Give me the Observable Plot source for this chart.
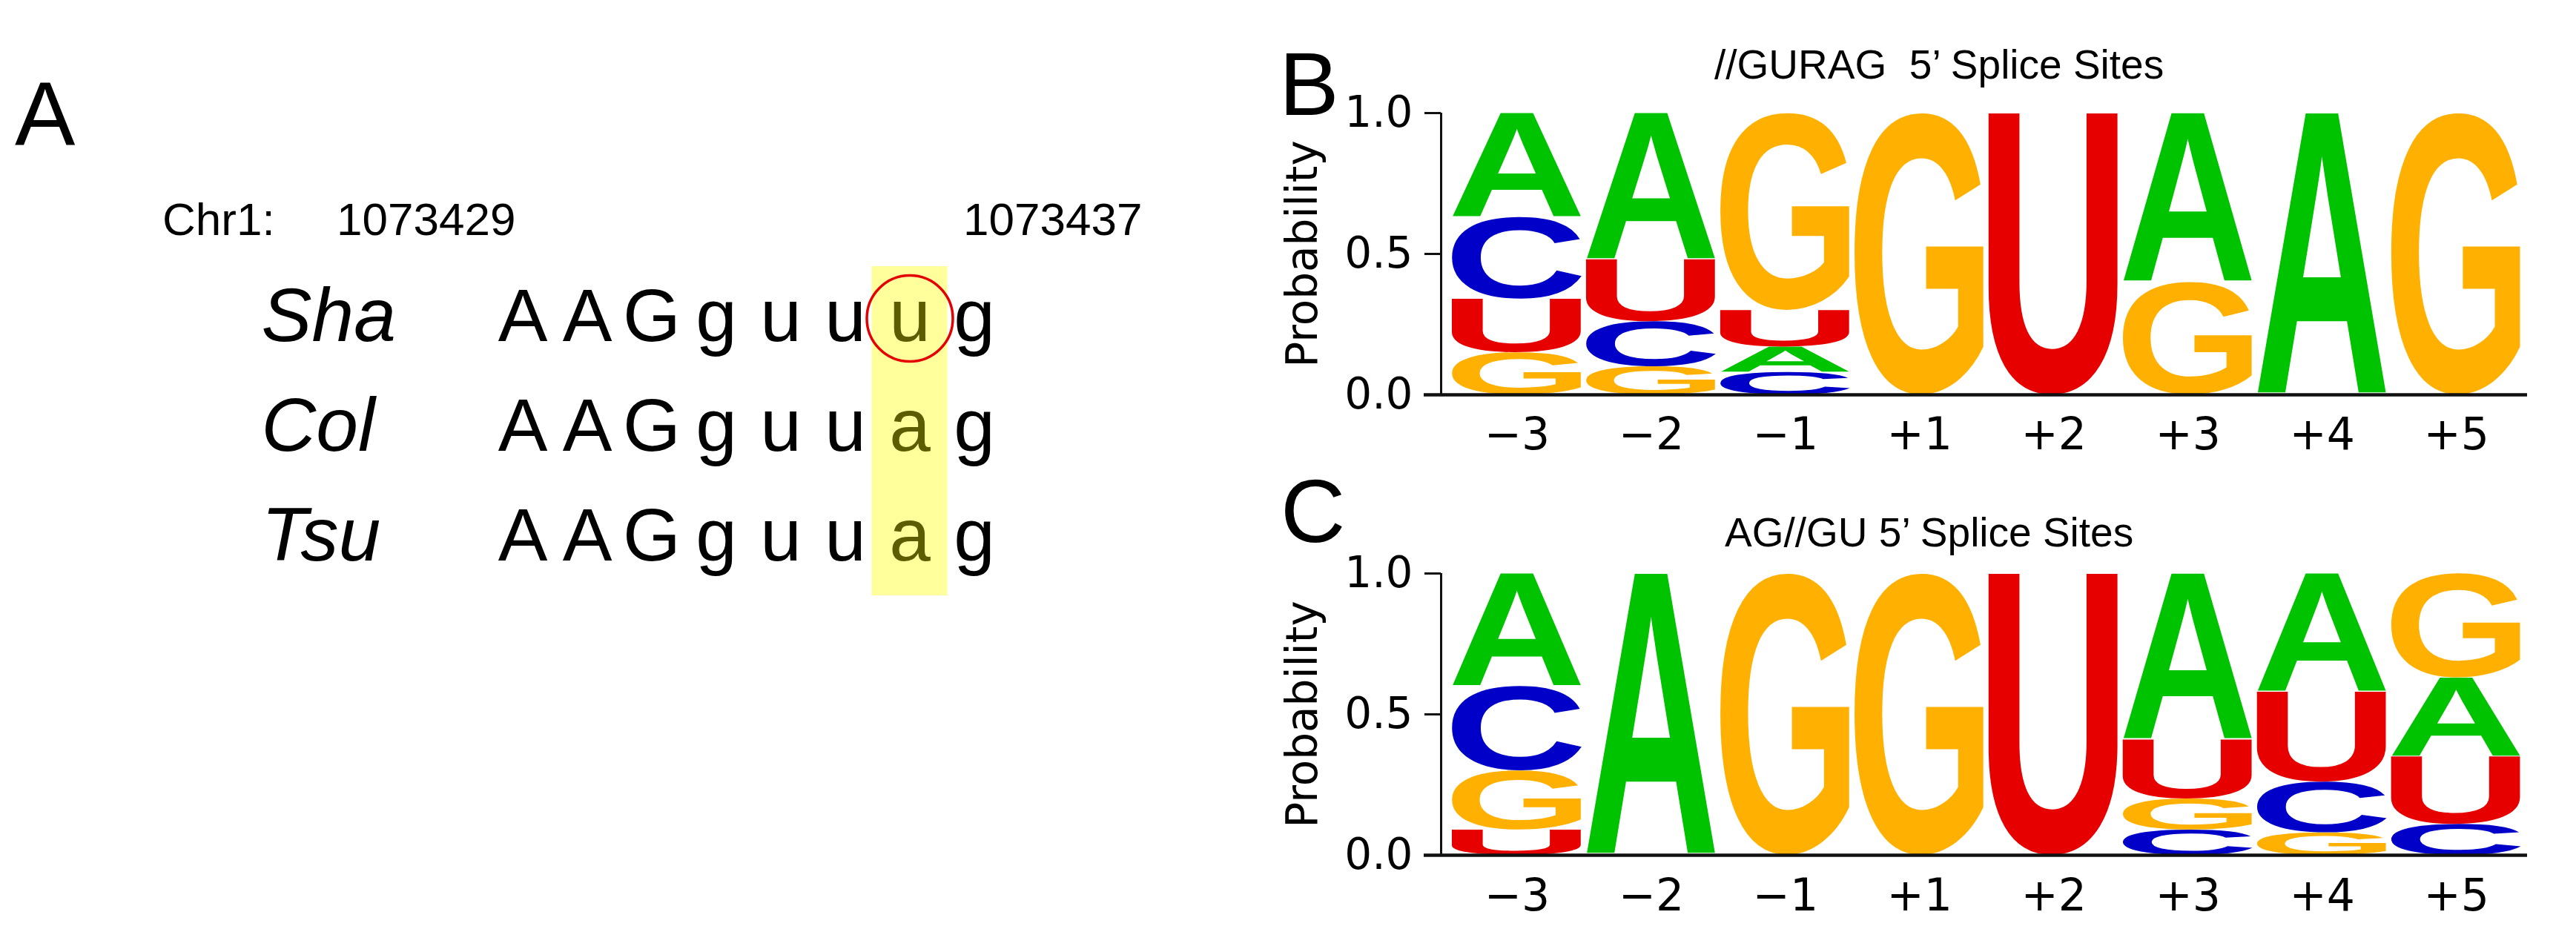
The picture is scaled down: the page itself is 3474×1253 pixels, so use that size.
<!DOCTYPE html>
<html>
<head>
<meta charset="utf-8">
<script src="https://cdn.jsdelivr.net/npm/d3@7"></script>
<script src="https://cdn.jsdelivr.net/npm/@observablehq/plot@0.6"></script>
<style>
html, body { margin: 0; padding: 0; background: #fff; }
#root { position: relative; width: 3474px; height: 1253px; overflow: hidden; background: #fff;
        font-family: "Liberation Sans", Arial, sans-serif; color: #000; }
.lbl { position: absolute; white-space: pre; line-height: 1; }
.plot { position: absolute; }
</style>
</head>
<body>
<div id="root"></div>
<script>
// ---------------- DATA ----------------
// Panel A: alignment
const strains = ["Sha", "Col", "Tsu"];
const seqSha = ["A", "A", "G", "g", "u", "u", "u", "g"];
const seqCol = ["A", "A", "G", "g", "u", "u", "a", "g"];
const seqTsu = ["A", "A", "G", "g", "u", "u", "a", "g"];
const snpIndex = 6;
const chrLabel = "Chr1:";
const startCoord = "1073429";
const endCoord = "1073437";

// Panels B & C: sequence logo probabilities per position
const positions = ["\u22123", "\u22122", "\u22121", "+1", "+2", "+3", "+4", "+5"];
const bases = ["A", "C", "G", "U"];
const baseColors = ["#00c300", "#0000c8", "#ffb000", "#e60000"];

// B: //GURAG 5' splice sites
const guragA = [0.37, 0.52, 0.09, 0.00, 0.00, 0.60, 1.00, 0.00];
const guragC = [0.29, 0.16, 0.08, 0.00, 0.00, 0.00, 0.00, 0.00];
const guragG = [0.15, 0.10, 0.70, 1.00, 0.00, 0.40, 0.00, 1.00];
const guragU = [0.19, 0.22, 0.13, 0.00, 1.00, 0.00, 0.00, 0.00];

// C: AG//GU 5' splice sites
const agguA = [0.40, 1.00, 0.00, 0.00, 0.00, 0.59, 0.42, 0.28];
const agguC = [0.30, 0.00, 0.00, 0.00, 0.00, 0.09, 0.18, 0.11];
const agguG = [0.21, 0.00, 1.00, 1.00, 0.00, 0.11, 0.08, 0.37];
const agguU = [0.09, 0.00, 0.00, 0.00, 1.00, 0.21, 0.32, 0.24];

const titleB = "//GURAG  5\u2019 Splice Sites";
const titleC = "AG//GU 5\u2019 Splice Sites";
const yLabel = "Probability";

// ---------------- LAYOUT ----------------
const root = document.getElementById("root");

function addText(str, left, baseline, size, opts = {}) {
  const d = document.createElement("div");
  d.className = "lbl";
  d.textContent = str;
  d.style.fontSize = size + "px";
  d.style.left = left + "px";
  d.style.top = (baseline - 0.8465 * size) + "px";
  if (opts.family) d.style.fontFamily = opts.family;
  if (opts.style) d.style.fontStyle = opts.style;
  root.appendChild(d);
  return d;
}

function place(svg, left, top) {
  const wrap = document.createElement("div");
  wrap.className = "plot";
  wrap.style.left = left + "px";
  wrap.style.top = top + "px";
  wrap.appendChild(svg);
  root.appendChild(wrap);
}

// ---------- Panel A ----------
const seqs = [seqSha, seqCol, seqTsu];
const seqRows = [];
strains.forEach((s, r) => seqs[r].forEach((b, i) => seqRows.push({strain: s, pos: i, base: b})));

const plotA = Plot.plot({
  width: 1700, height: 560,
  marginLeft: 352, marginTop: 0, marginRight: 0, marginBottom: 0,
  x: {type: "band", domain: d3.range(seqSha.length), range: [658.1, 1359.9], padding: 0, axis: null},
  y: {type: "band", domain: strains, range: [59, 503], padding: 0, axis: null},
  style: {background: "transparent", color: "#000", fontFamily: "Liberation Sans, Arial, sans-serif"},
  marks: [
    Plot.cell(strains, {x: () => snpIndex, y: d => d, fill: "#ffff9c", insetLeft: -7.5, insetRight: -7.5}),
    Plot.text(strains, {y: d => d, text: d => d, frameAnchor: "left", textAnchor: "start",
      lineAnchor: "bottom", dy: 26, fontSize: 102, fontStyle: "italic", fill: "#000"}),
    Plot.text(seqRows, {filter: d => d.pos !== snpIndex, x: "pos", y: "strain", text: "base",
      lineAnchor: "bottom", dy: 26, fontSize: 100, fill: "#000"}),
    Plot.text(seqRows, {filter: d => d.pos === snpIndex, x: "pos", y: "strain", text: "base",
      lineAnchor: "bottom", dy: 26, fontSize: 100, fill: "#5c5c00"}),
    Plot.dot([snpIndex], {x: d => d, y: () => strains[0], r: 58, dy: -4,
      stroke: "#e50000", strokeWidth: 3.5, fill: "none"})
  ]
});
place(plotA, 0, 300);

// ---------- Panels B & C (sequence logos) ----------
const xDomain = [-0.566, 7.53];
const measureCtx = document.createElement("canvas").getContext("2d");
const glyphFont = "'Liberation Sans', Arial, sans-serif";
measureCtx.font = "bold 200px " + glyphFont;
measureCtx.textAlign = "start";
measureCtx.textBaseline = "alphabetic";

function logoPlot(A, C, G, U, top, height, yOnePx, yZeroPx, tickPad) {
  const probs = [A, C, G, U];
  const rows = [];
  positions.forEach((p, i) => {
    const col = bases.map((b, k) => ({base: b, v: probs[k][i]}))
      .filter(d => d.v > 0)
      .sort((a, b) => a.v - b.v);
    let acc = 0;
    for (const d of col) { rows.push({i, base: d.base, y1: acc, y2: acc + d.v}); acc += d.v; }
  });
  const svg = Plot.plot({
    width: 1774, height,
    marginLeft: 243, marginRight: 66,
    marginTop: yOnePx - top, marginBottom: height - (yZeroPx - top),
    x: {domain: xDomain, axis: null, label: null},
    y: {domain: [0, 1], axis: null, label: null},
    color: {domain: bases, range: baseColors},
    style: {background: "transparent", color: "#000", fontFamily: "DejaVu Sans, sans-serif", overflow: "visible"},
    marks: [
      Plot.rect(rows, {x1: d => d.i - 0.5, x2: d => d.i + 0.5, y1: "y1", y2: "y2",
        insetLeft: 3, insetRight: 3, fill: "base", title: "base"}),
      Plot.ruleX([xDomain[0]], {y1: 0, y2: 1, strokeWidth: 3, stroke: "#111"}),
      Plot.ruleY([0], {strokeWidth: 4.5, insetLeft: -23, stroke: "#111"}),
      Plot.axisY({ticks: [0, 0.5, 1], tickFormat: d3.format(".1f"), tickSize: 22, tickPadding: 16,
        strokeWidth: 3, stroke: "#111", fontSize: 58, fontFamily: "DejaVu Sans, sans-serif", label: null}),
      Plot.axisX({ticks: d3.range(positions.length), tickFormat: i => positions[i], tickSize: 0,
        tickPadding: tickPad, fontSize: 60, fontFamily: "DejaVu Sans, sans-serif", label: null}),
      Plot.text([0.5], {y: d => d, text: () => yLabel, frameAnchor: "left", textAnchor: "middle",
        rotate: -90, dx: -168, lineAnchor: "bottom", fontSize: 58,
        fontFamily: "DejaVu Sans, sans-serif", fill: "#000"})
    ]
  });
  // replace each stacked rect with its letter glyph stretched to fill it
  const colorToBase = new Map(baseColors.map((c, k) => [c.toLowerCase(), bases[k]]));
  Array.from(svg.querySelectorAll("rect")).forEach(r => {
    const t = r.querySelector("title");
    let ch = t ? t.textContent.trim() : "";
    if (!bases.includes(ch)) ch = colorToBase.get((r.getAttribute("fill") || "").toLowerCase()) || "";
    if (!ch) return;
    const x = +r.getAttribute("x"), y = +r.getAttribute("y");
    const w = +r.getAttribute("width"), h = +r.getAttribute("height");
    const m = measureCtx.measureText(ch);
    const L = m.actualBoundingBoxLeft, R = m.actualBoundingBoxRight;
    const As = m.actualBoundingBoxAscent, De = m.actualBoundingBoxDescent;
    const sx = w / (L + R), sy = h / (As + De);
    const txt = document.createElementNS("http://www.w3.org/2000/svg", "text");
    txt.setAttribute("font-family", glyphFont);
    txt.setAttribute("font-weight", "bold");
    txt.setAttribute("font-size", "200");
    txt.setAttribute("text-anchor", "start");
    txt.setAttribute("dominant-baseline", "alphabetic");
    txt.setAttribute("fill", r.getAttribute("fill"));
    txt.setAttribute("transform", `translate(${x + L * sx},${y + h - De * sy}) scale(${sx},${sy})`);
    txt.textContent = ch;
    r.parentNode.insertBefore(txt, r);
    r.remove();
  });
  return svg;
}

place(logoPlot(guragA, guragC, guragG, guragU, 20, 620, 152, 532, 31), 1700, 20);
place(logoPlot(agguA, agguC, agguG, agguU, 640, 613, 773, 1153, 32), 1700, 640);

// ---------- HTML labels ----------
addText("A", 20, 196, 122);
addText("B", 1725, 155, 121);
addText("C", 1727, 731, 121);
addText(chrLabel, 219, 317, 62);
addText(startCoord, 454, 317, 62);
addText(endCoord, 1299, 317, 62);
addText(titleB, 2312, 107, 55);
addText(titleC, 2326, 738, 55);
</script>
</body>
</html>
